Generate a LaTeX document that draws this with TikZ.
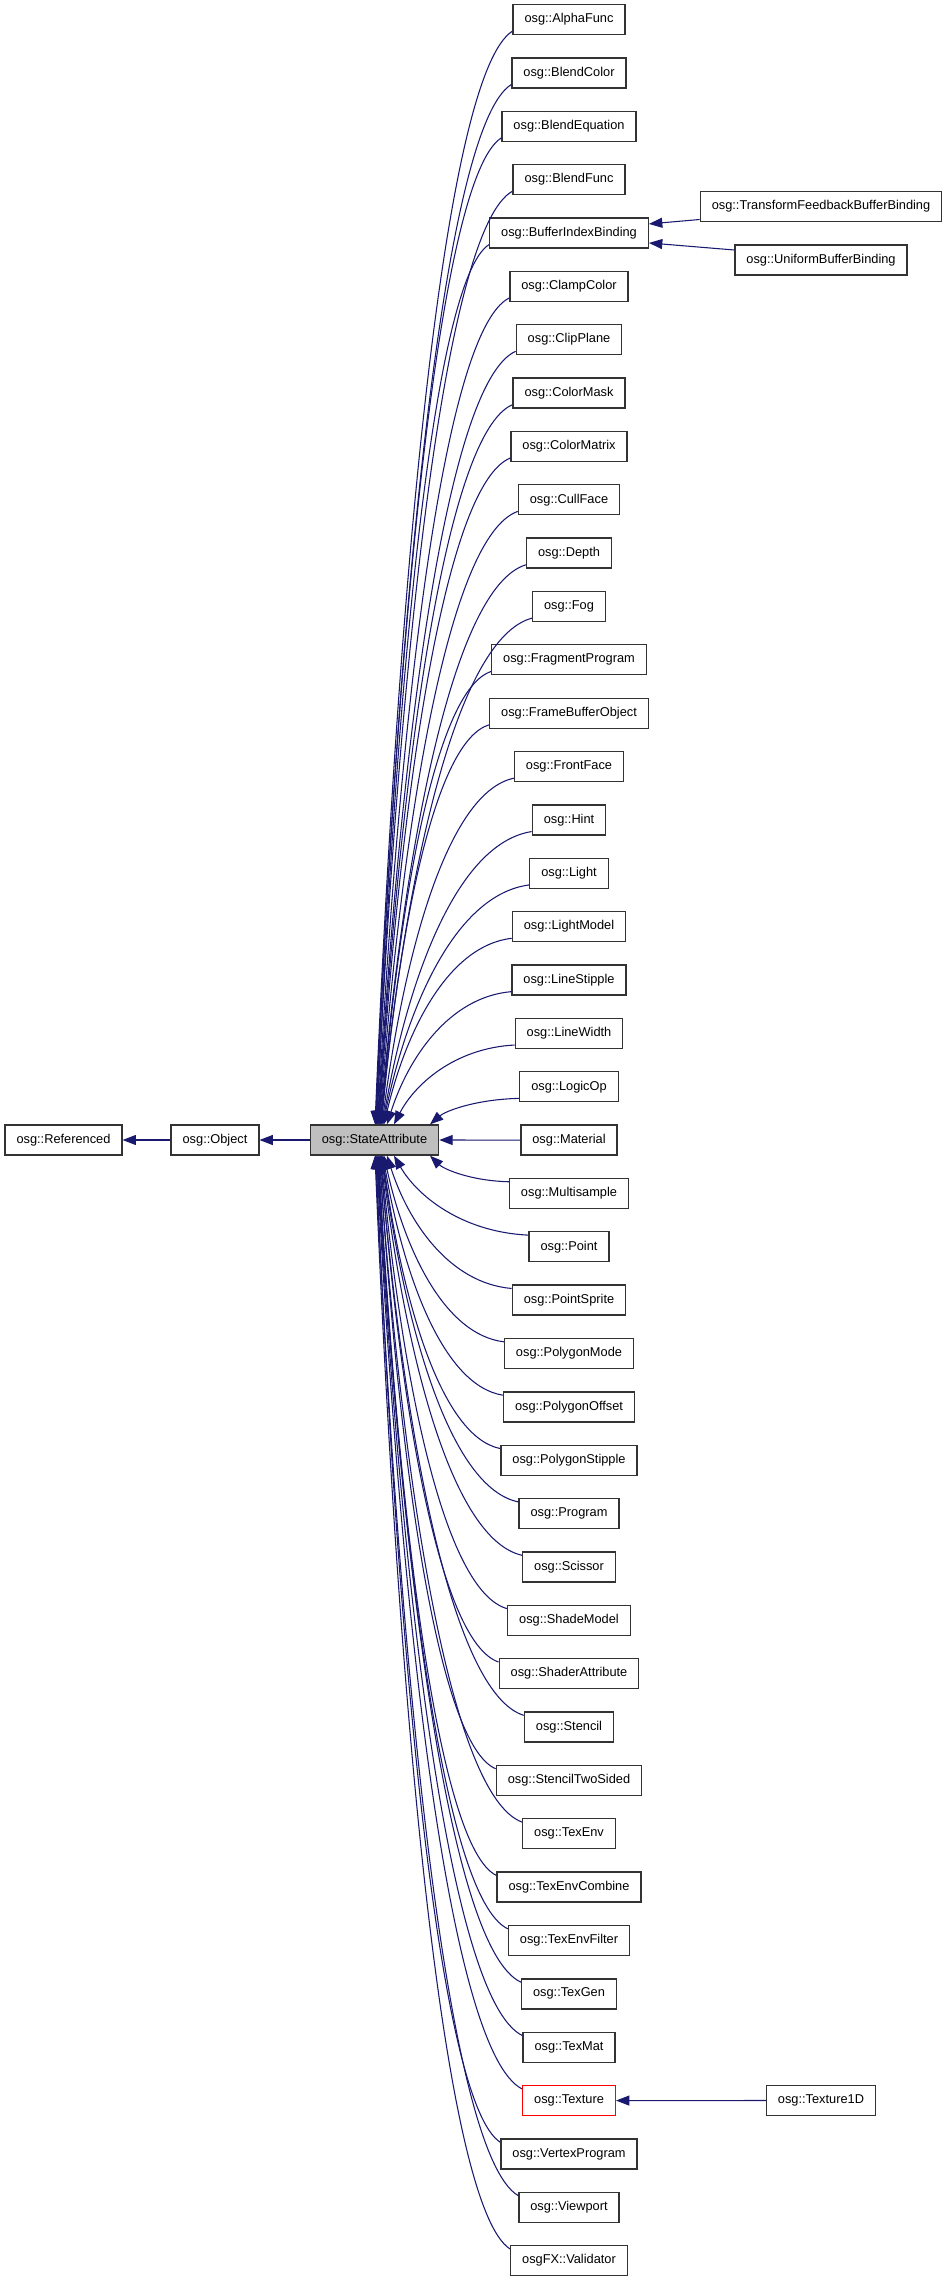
\documentclass[tikz,border=0pt]{standalone}
\usepackage{fontspec}
\setmainfont{Liberation Sans}
\usetikzlibrary{arrows.meta,calc}
\definecolor{edgeblue}{HTML}{191970}
\begin{document}
\begin{tikzpicture}[x=0.75pt,y=-0.75pt,
  cls/.style={draw=black!80, line width=1pt, fill=white,
    font=\fontsize{9.6}{11.5}\selectfont, inner xsep=8.6pt, inner ysep=0pt,
    minimum height=22.5pt, anchor=center},
  clsred/.style={cls, draw=red},
  inh/.style={draw=edgeblue, line width=0.8pt, {Triangle[length=10pt,width=7.5pt]}-}]
\useasboundingbox (0,0) rectangle (949,2280);

\node[cls] (ref) at (63.5,1140) {osg::Referenced};
\node[cls] (obj) at (215,1140) {osg::Object};
\node[cls, fill=gray!50] (sa) at (374.5,1140) {osg::StateAttribute};

\foreach \nm/\st [count=\k from 0] in {osg::AlphaFunc/cls, osg::BlendColor/cls,
  osg::BlendEquation/cls, osg::BlendFunc/cls, osg::BufferIndexBinding/cls,
  osg::ClampColor/cls, osg::ClipPlane/cls, osg::ColorMask/cls, osg::ColorMatrix/cls,
  osg::CullFace/cls, osg::Depth/cls, osg::Fog/cls, osg::FragmentProgram/cls,
  osg::FrameBufferObject/cls, osg::FrontFace/cls, osg::Hint/cls, osg::Light/cls,
  osg::LightModel/cls, osg::LineStipple/cls, osg::LineWidth/cls, osg::LogicOp/cls,
  osg::Material/cls, osg::Multisample/cls, osg::Point/cls, osg::PointSprite/cls,
  osg::PolygonMode/cls, osg::PolygonOffset/cls, osg::PolygonStipple/cls,
  osg::Program/cls, osg::Scissor/cls, osg::ShadeModel/cls, osg::ShaderAttribute/cls,
  osg::Stencil/cls, osg::StencilTwoSided/cls, osg::TexEnv/cls, osg::TexEnvCombine/cls,
  osg::TexEnvFilter/cls, osg::TexGen/cls, osg::TexMat/cls, osg::Texture/clsred,
  osg::VertexProgram/cls, osg::Viewport/cls, osgFX::Validator/cls}
  {\node[\st] (c\k) at (569,{19.5+53.36*\k}) {\nm};}

\node[cls] (tfbb) at (821,206.5) {osg::TransformFeedbackBufferBinding};
\node[cls] (ubb) at (821,260) {osg::UniformBufferBinding};
\node[cls] (t1d) at (821,2100.5) {osg::Texture1D};

\draw[inh] (ref.east) -- (obj.west);
\draw[inh] (obj.east) -- (sa.west);
\draw[inh] (sa.east) -- (c21.west);
\draw[inh] ($(c4.east)+(0,-9)$) -- ($(tfbb.west)+(0,13)$);
\draw[inh] ($(c4.east)+(0,10)$) -- ($(ubb.west)+(0,-10)$);
\draw[inh] (c39.east) -- (t1d.west);

\foreach \k/\tx in {0/375,1/375.5,2/376,3/376.5,4/377,5/377.5,6/378,7/378.5,
  8/379,9/379.5,10/380,11/380.5,12/381,13/381.5,14/382,15/382.5,16/383,
  17/384,18/387,19/394,20/430}{
  \path (sa.north) ++({\tx-374.5},0) coordinate (T);
  \coordinate (S) at ($(c\k.south west)+(0,-4)$);
  \coordinate (P1x) at ($(T)!0.17!(S)$);
  \coordinate (P1y) at ($(T)!0.5!(S)$);
  \coordinate (P2y) at ($(T)!0.96!(S)$);
  \draw[inh] (T) .. controls (P1x |- P1y) and (P1y |- P2y) .. (S);
}
\foreach \k/\tx in {22/430,23/394,24/387,25/384,26/383,27/382.5,28/382,
  29/381.5,30/381,31/380.5,32/380,33/379.5,34/379,35/378.5,36/378,37/377.5,
  38/377,39/376.5,40/376,41/375.5,42/375}{
  \path (sa.south) ++({\tx-374.5},0) coordinate (T);
  \coordinate (S) at ($(c\k.north west)+(0,4)$);
  \coordinate (P1x) at ($(T)!0.17!(S)$);
  \coordinate (P1y) at ($(T)!0.5!(S)$);
  \coordinate (P2y) at ($(T)!0.96!(S)$);
  \draw[inh] (T) .. controls (P1x |- P1y) and (P1y |- P2y) .. (S);
}
\end{tikzpicture}
\end{document}
